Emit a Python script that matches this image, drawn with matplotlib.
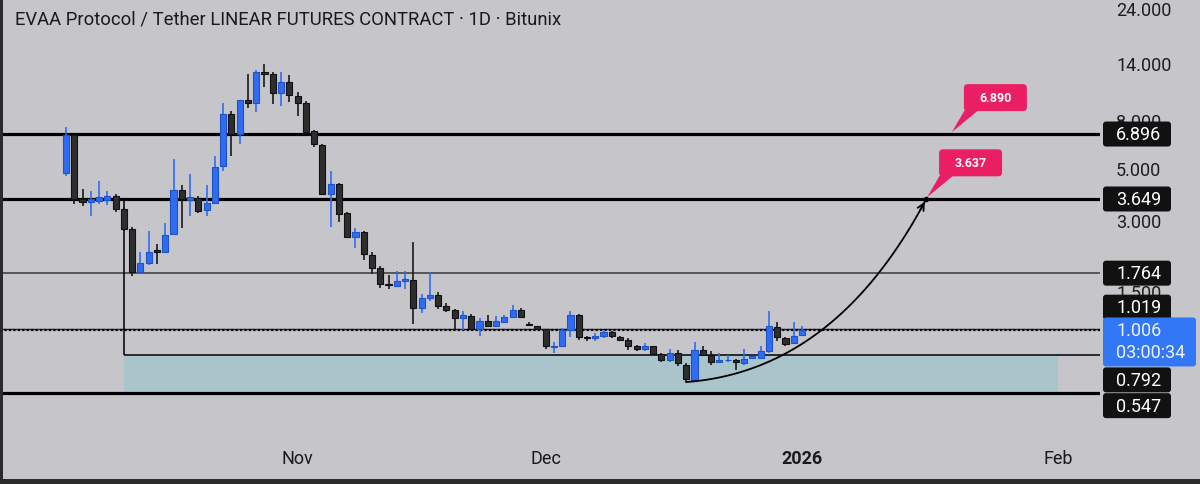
import numpy as np
import pandas as pd
import matplotlib
matplotlib.use("Agg")
import matplotlib.pyplot as plt
import matplotlib.dates as mdates
from matplotlib.patches import Rectangle, FancyBboxPatch, Polygon
from matplotlib.transforms import IdentityTransform

plt.rcParams['font.family'] = ['Roboto', 'DejaVu Sans']

W, H = 1200, 485
BG = '#c6c6ca'
BLUE = '#2f6cf2'
BLUE_EDGE = '#2052c8'
DARK = '#2e2e2e'
PINK = '#e91e63'
TEAL = '#a9c5cb'

title = "EVAA Protocol / Tether LINEAR FUTURES CONTRACT \u00b7 1D \u00b7 Bitunix"

# daily candles starting 2025-10-04
start = "2025-10-04"
opens = [4.71, 6.83, 3.65, 3.54, 3.58, 3.61, 3.76, 3.31, 2.72, 1.78,
         1.95, 2.21, 2.17, 2.59, 3.98, 3.61, 3.68, 3.27, 3.51, 5.04,
         8.39, 6.90, 9.62, 9.34, 12.66, 12.41, 10.31, 11.48, 10.01, 9.34,
         7.10, 6.19, 3.83, 4.23, 3.18, 2.51, 2.64, 2.11, 1.86, 1.59,
         1.56, 1.63, 1.65, 1.25, 1.38, 1.42, 1.28, 1.23, 1.14, 1.16,
         1.02, 1.10, 1.05, 1.09, 1.15, 1.23, 1.07, 1.05, 1.02, 0.855,
         0.86, 1.01, 1.17, 0.94, 0.93, 0.95, 0.99, 0.94, 0.92, 0.86,
         0.84, 0.86, 0.80, 0.75, 0.81, 0.72, 0.62, 0.83, 0.79, 0.74,
         0.75, 0.755, 0.73, 0.77, 0.77, 0.82, 1.04, 0.93, 0.89, 0.96]
highs = [7.39, 6.90, 4.02, 3.94, 4.35, 3.94, 3.83, 3.37, 2.77, 2.17,
         2.67, 2.35, 2.88, 5.40, 4.18, 4.66, 3.76, 4.18, 5.56, 9.34,
         8.64, 9.62, 12.41, 12.91, 13.70, 12.66, 12.66, 12.29, 10.41, 9.53,
         7.17, 6.25, 4.80, 4.25, 3.21, 2.75, 2.66, 2.17, 1.89, 1.73,
         1.80, 1.80, 2.39, 1.44, 1.78, 1.47, 1.32, 1.24, 1.22, 1.18,
         1.14, 1.17, 1.16, 1.17, 1.29, 1.25, 1.09, 1.05, 1.02, 0.90,
         1.03, 1.22, 1.18, 0.95, 0.98, 1.01, 1.00, 0.95, 0.93, 0.87,
         0.89, 0.865, 0.81, 0.84, 0.83, 0.73, 0.90, 0.86, 0.82, 0.81,
         0.79, 0.76, 0.84, 0.78, 0.86, 1.22, 1.09, 0.94, 1.09, 1.05]
lows = [4.57, 3.47, 3.41, 3.09, 3.47, 3.44, 3.21, 2.67, 1.72, 1.75,
        1.91, 1.93, 2.15, 2.59, 2.75, 3.09, 3.18, 3.09, 3.47, 4.80,
        5.56, 6.25, 8.90, 8.55, 10.93, 9.25, 9.07, 9.44, 8.23, 6.90,
        6.07, 3.80, 2.77, 2.91, 2.49, 2.26, 2.01, 1.75, 1.53, 1.51,
        1.54, 1.51, 1.07, 1.19, 1.34, 1.24, 1.21, 1.02, 1.01, 1.01,
        0.95, 1.04, 1.04, 1.08, 1.14, 1.15, 1.05, 1.01, 0.84, 0.81,
        0.855, 0.94, 0.92, 0.91, 0.91, 0.93, 0.93, 0.91, 0.83, 0.82,
        0.82, 0.79, 0.74, 0.74, 0.71, 0.61, 0.61, 0.78, 0.72, 0.74,
        0.74, 0.68, 0.72, 0.76, 0.76, 0.81, 0.91, 0.86, 0.88, 0.96]
closes = [6.83, 3.65, 3.54, 3.65, 3.72, 3.76, 3.31, 2.72, 1.78, 1.95,
          2.17, 2.17, 2.56, 3.98, 3.65, 3.72, 3.24, 3.51, 4.99, 8.39,
          6.90, 9.62, 9.34, 12.66, 12.41, 10.31, 11.48, 10.11, 9.34, 7.03,
          6.25, 3.83, 4.23, 3.15, 2.51, 2.64, 2.13, 1.86, 1.59, 1.57,
          1.63, 1.67, 1.25, 1.38, 1.42, 1.28, 1.23, 1.14, 1.17, 1.02,
          1.10, 1.05, 1.10, 1.15, 1.23, 1.15, 1.06, 1.02, 0.86, 0.865,
          1.01, 1.17, 0.94, 0.93, 0.95, 0.99, 0.95, 0.92, 0.86, 0.84,
          0.86, 0.80, 0.75, 0.81, 0.73, 0.625, 0.83, 0.79, 0.74, 0.75,
          0.755, 0.74, 0.76, 0.78, 0.82, 1.05, 0.94, 0.88, 0.95, 1.006]

# horizontal levels
strong_levels = [6.896, 3.649, 0.547]
thin_level = 1.764
box_top, box_bottom = 0.792, 0.547
last_price = 1.006
prev_level = 1.019

# price scale ticks
tick_prices = [24, 14, 8, 5, 3, 1.5]
tick_texts = ["24.000", "14.000", "8.000", "5.000", "3.000", "1.500"]

# price tags: (value, text, pixel shift)
tags = [(6.896, "6.896", 0), (3.649, "3.649", 0), (1.764, "1.764", 0),
        (1.019, "1.019", 22), (0.792, "0.792", -25), (0.547, "0.547", -13)]

# projection curve (start, control, end) and callouts
curve_dates = ["2025-12-18", "2026-01-05", "2026-01-16"]
curve_prices = [0.607, 0.676, 3.637]
callouts = [("2026-01-19", 6.890, "6.890"), ("2026-01-16", 3.637, "3.637")]

month_ticks = ["2025-11-01", "2025-12-01", "2026-01-01", "2026-02-01"]
month_labels = ["Nov", "Dec", "2026", "Feb"]

dates = pd.date_range(start, periods=len(opens), freq="D")
xs = mdates.date2num(dates)
o = np.array(opens); h = np.array(highs); l = np.array(lows); c = np.array(closes)
up = c >= o

fig = plt.figure(figsize=(W / 100, H / 100), dpi=100, facecolor=BG)
ax = fig.add_axes([0, 45 / H, 1100 / W, 440 / H])
ax.set_facecolor(BG)
ax.set_yscale('log')
ax.set_xlim(xs[0] - 66 / 8.27, xs[0] + 1034 / 8.27)
ax.set_ylim(0.3473, 25.9)
for s in ax.spines.values():
    s.set_visible(False)
ax.set_yticks([])
ax.minorticks_off()

# zone box and lines
feb1 = mdates.date2num(pd.Timestamp("2026-02-01"))
ax.add_patch(Rectangle((xs[7], box_bottom), feb1 - xs[7], box_top - box_bottom,
                       fc=TEAL, ec='none', zorder=1))
for lv in strong_levels:
    ax.axhline(lv, color='black', lw=2.3, zorder=2)
ax.axhline(thin_level, color='#444444', lw=1.2, zorder=2)
ax.axhline(prev_level, color='#222222', lw=1.0, zorder=2)
ax.axhline(last_price, color='black', lw=1.6, ls=(0, (1, 1)), zorder=2)
ax.hlines(box_top, xs[7], ax.get_xlim()[1], color='black', lw=1.1, zorder=2)
ax.vlines(xs[7], box_top, 3.649, color='black', lw=1.1, zorder=2)

# candles
ax.vlines(xs, l, h, colors=np.where(up, BLUE, '#1a1a1a'), lw=1.2, zorder=3)
ax.bar(xs, np.abs(c - o), bottom=np.minimum(o, c), width=0.74,
       color=np.where(up, BLUE, DARK), edgecolor=np.where(up, BLUE_EDGE, '#111111'),
       lw=0.8, zorder=4)

# projection curve
cx = mdates.date2num(pd.to_datetime(curve_dates))
cy = np.log10(curve_prices)
t = np.linspace(0, 1, 80)
bx = (1 - t) ** 2 * cx[0] + 2 * (1 - t) * t * cx[1] + t ** 2 * cx[2]
by = (1 - t) ** 2 * cy[0] + 2 * (1 - t) * t * cy[1] + t ** 2 * cy[2]
ax.plot(bx, 10 ** by, color='black', lw=1.3, zorder=5)
ax.annotate('', xy=(bx[-1], 10 ** by[-1]), xytext=(bx[-4], 10 ** by[-4]),
            arrowprops=dict(arrowstyle='->', color='black', lw=1.3, mutation_scale=12), zorder=5)
ax.plot([bx[-1]], [10 ** by[-1]], 'o', color='black', ms=3, zorder=6)

# x axis labels
ax.set_xticks(mdates.date2num(pd.to_datetime(month_ticks)))
ax.set_xticklabels(month_labels)
ax.tick_params(axis='x', length=0, pad=7, labelsize=13, labelcolor='#1a1a1a')
ax.get_xticklabels()[2].set_fontweight('bold')

ident = IdentityTransform()

def ypix(price):
    return ax.transData.transform((xs[0], price))[1]

# price scale tick labels (some sit behind the tags, as on the screen)
for p, txt in zip(tick_prices, tick_texts):
    fig.add_artist(plt.Text(1116, ypix(p) - 3, txt, transform=ident, fontsize=13,
                            color='#1e1e1e', va='center', ha='left', zorder=1))

# price tags
for val, txt, shift in tags:
    yc = ypix(val) + shift
    fig.add_artist(FancyBboxPatch((1103, yc - 12.5), 68, 25, transform=ident,
                                  boxstyle='round,pad=0,rounding_size=3',
                                  fc='#111111', ec='none', zorder=3))
    fig.add_artist(plt.Text(1116, yc, txt, transform=ident, fontsize=13,
                            color='white', va='center', ha='left', zorder=4))

yl = ypix(last_price)
fig.add_artist(FancyBboxPatch((1103, yl - 36), 93, 49, transform=ident,
                              boxstyle='round,pad=0,rounding_size=3',
                              fc='#3277f5', ec='none', zorder=3))
fig.add_artist(plt.Text(1116, yl, "1.006", transform=ident, fontsize=13,
                        color='#eef2ff', va='center', ha='left', zorder=4))
fig.add_artist(plt.Text(1116, yl - 22, "03:00:34", transform=ident, fontsize=13,
                        color='#eef2ff', va='center', ha='left', zorder=4))

# callouts
for d, p, txt in callouts:
    px, py = ax.transData.transform((mdates.date2num(pd.Timestamp(d)), p))
    bx0, by0 = px + 13, py + 23
    fig.add_artist(Polygon([[bx0 + 2, by0 + 3], [bx0 + 17, by0 + 3], [px + 1, py + 2]],
                           closed=True, transform=ident, fc=PINK, ec='none', zorder=6))
    fig.add_artist(FancyBboxPatch((bx0, by0), 63, 27, transform=ident,
                                  boxstyle='round,pad=0,rounding_size=4',
                                  fc=PINK, ec='none', zorder=6))
    fig.add_artist(plt.Text(bx0 + 31.5, by0 + 13.5, txt, transform=ident, fontsize=9,
                            fontweight='bold', color='white', va='center', ha='center', zorder=7))

# title and frame strips
fig.text(15 / W, 1 - 19 / H, title, fontsize=13.3, color='#1a1a1a', va='center', ha='left')
fig.add_artist(Rectangle((0, 0), 3 / W, 1, transform=fig.transFigure, fc='#2a2a2a', ec='none'))
fig.add_artist(Rectangle((0, 0), 1, 5 / H, transform=fig.transFigure, fc='#2a2a2a', ec='none'))

fig.savefig("out.png", dpi=100, facecolor=BG)
